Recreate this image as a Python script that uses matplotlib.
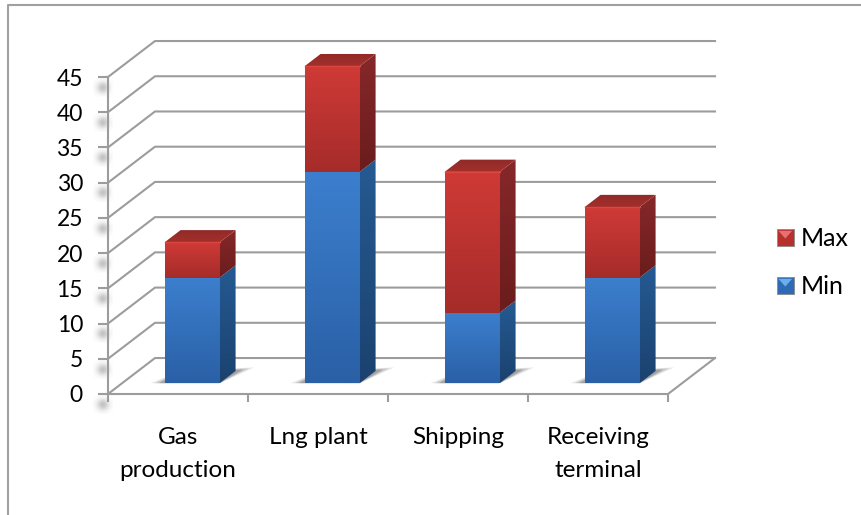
import numpy as np
import matplotlib
matplotlib.use("Agg")
import matplotlib.pyplot as plt
from matplotlib.colors import to_rgb
from matplotlib.legend_handler import HandlerPatch
from matplotlib.patches import Patch, Polygon, Rectangle

plt.rcParams['font.family'] = ['Lato', 'DejaVu Sans']

categories = ["Gas\nproduction", "Lng plant", "Shipping", "Receiving\nterminal"]
min_values = [15, 30, 10, 15]
max_values = [5, 15, 20, 10]
y_ticks = [0, 5, 10, 15, 20, 25, 30, 35, 40, 45]

GRID = "#9c9c9c"
BLUE = {"front": ("#3c7fce", "#2a60a6"), "side": ("#255a92", "#1b426f")}
RED = {"front": ("#cf3a36", "#a52c2a"), "side": ("#86282a", "#6b1c1c")}
RED_TOP = ("#8f2a28", "#a3302c")

# oblique projection: one unit of depth moves this far in data units
DEPTH_X = 47 / 140
DEPTH_Y = 36 / 7.05
BAR_WIDTH = 0.393
BAR_D0, BAR_D1 = 0.30, 0.64

W, H = 862, 515
fig = plt.figure(figsize=(W / 100, H / 100), dpi=100)
ax = fig.add_axes([108 / W, (H - 394) / H, 560 / W, 317 / H])


def pt(x, y, d=0.0):
    return (x + d * DEPTH_X, y + d * DEPTH_Y)


def shaded(verts, top, bottom, z):
    # vertical gradient clipped to a polygon
    xs, ys = zip(*verts)
    grad = np.linspace(to_rgb(top), to_rgb(bottom), 64)[:, None, :]
    im = ax.imshow(grad, extent=(min(xs), max(xs), min(ys), max(ys)), origin="upper",
                   aspect="auto", interpolation="bilinear", zorder=z)
    im.set_clip_path(Polygon(verts, transform=ax.transData))
    im.set_clip_box(fig.bbox)


def blob(x, y, rx, ry, z=1):
    # soft grey smudge
    u, v = np.meshgrid(np.linspace(-1, 1, 32), np.linspace(-1, 1, 32))
    rgba = np.full((32, 32, 4), 0.66)
    rgba[..., 3] = 0.7 * np.exp(-2.6 * (u ** 2 + v ** 2))
    ax.imshow(rgba, extent=(x - rx, x + rx, y - ry, y + ry), aspect="auto",
              interpolation="bilinear", zorder=z, clip_on=False)


# frame, runs off the right and bottom edges
fig.add_artist(plt.Line2D([1, 8.5 / W, 8.5 / W], [1 - 4.5 / H, 1 - 4.5 / H, 0],
                          color="#a0a0a0", lw=1.5, transform=fig.transFigure))

# walls and floor
n = len(categories)
for v in y_ticks:
    a, b, c = pt(0, v), pt(0, v, 1), pt(n, v, 1)
    ax.plot([a[0], b[0], c[0]], [a[1], b[1], c[1]], color=GRID, lw=1.5, clip_on=False, zorder=2)
a, b = pt(n, 0), pt(n, 0, 1)
ax.plot([a[0], b[0]], [a[1], b[1]], color=GRID, lw=1.5, clip_on=False, zorder=2)

for v in y_ticks:
    blob(-0.035, v - 1.5, 0.07, 1.3)

for i in range(n):
    x0 = i + 0.5 - BAR_WIDTH / 2
    x1 = x0 + BAR_WIDTH
    low, high = min_values[i], min_values[i] + max_values[i]

    # shadow on the floor
    for grow, alpha in [(0.10, 0.12), (0.07, 0.18), (0.04, 0.28)]:
        s = [pt(x0 - grow, 0, BAR_D0), pt(x1, 0, BAR_D0), pt(x1 + grow, 0, BAR_D1 + grow),
             pt(x0, 0, BAR_D1)]
        ax.add_patch(Polygon(s, color="#404040", alpha=alpha, lw=0, zorder=3, clip_on=False))

    for base, top, col in [(0, low, BLUE), (low, high, RED)]:
        side = [pt(x1, base, BAR_D0), pt(x1, top, BAR_D0), pt(x1, top, BAR_D1), pt(x1, base, BAR_D1)]
        front = [pt(x0, base, BAR_D0), pt(x0, top, BAR_D0), pt(x1, top, BAR_D0), pt(x1, base, BAR_D0)]
        shaded(side, col["side"][0], col["side"][1], 4)
        shaded(front, col["front"][0], col["front"][1], 5)

    cap = [pt(x0, high, BAR_D0), pt(x1, high, BAR_D0), pt(x1, high, BAR_D1), pt(x0, high, BAR_D1)]
    shaded(cap, RED_TOP[0], RED_TOP[1], 5)
    e0, e1 = pt(x0, high, BAR_D0), pt(x1, high, BAR_D0)
    ax.plot([e0[0], e1[0]], [e0[1], e1[1]], color="#dc4640", lw=1, zorder=6, clip_on=False)

# axes
ax.set_xlim(0, n)
ax.set_ylim(0, 45)
for name in ("top", "right"):
    ax.spines[name].set_visible(False)
for name in ("left", "bottom"):
    ax.spines[name].set_color(GRID)
    ax.spines[name].set_linewidth(1.5)
    ax.spines[name].set_zorder(7)
ax.patch.set_alpha(0)

ax.set_yticks(y_ticks)
ax.tick_params(axis="y", length=7, width=1.5, color=GRID, pad=11, labelsize=16.5)
ax.set_xticks(range(n + 1), [""] * (n + 1))
ax.tick_params(axis="x", which="major", length=6, width=1.5, color=GRID)
ax.set_xticks(np.arange(n) + 0.5, categories, minor=True)
ax.tick_params(axis="x", which="minor", length=0, pad=24, labelsize=17.5)
for lab in ax.get_xticklabels(minor=True):
    lab.set_linespacing(1.68)
    lab.set_verticalalignment("top")


class BevelHandler(HandlerPatch):
    # small square marker with a lighter wedge on top
    def create_artists(self, legend, orig, xd, yd, w, h, fontsize, trans):
        side = h
        x = -xd
        y = -yd
        square = Rectangle((x, y), side, side, facecolor=orig.get_facecolor(),
                           edgecolor="#8a8a8a", lw=0.6, transform=trans)
        wedge = Polygon([(x + 1, y + side - 1), (x + side - 1, y + side - 1), (x + side / 2, y + side * 0.45)],
                        facecolor=orig.get_edgecolor(), lw=0, transform=trans)
        return [square, wedge]


handles = [Patch(facecolor="#b8302e", edgecolor="#e87070", label="Max"),
           Patch(facecolor="#2f6bb5", edgecolor="#6aaeea", label="Min")]
ax.legend(handles=handles, loc="center left", bbox_to_anchor=(777 / W, 1 - 263 / H),
          bbox_transform=fig.transFigure, frameon=False, fontsize=18, labelspacing=1.0,
          handlelength=0.64, handleheight=0.64, handletextpad=0.32, borderpad=0,
          borderaxespad=0, handler_map={Patch: BevelHandler()})

fig.savefig("out.png", dpi=100)
